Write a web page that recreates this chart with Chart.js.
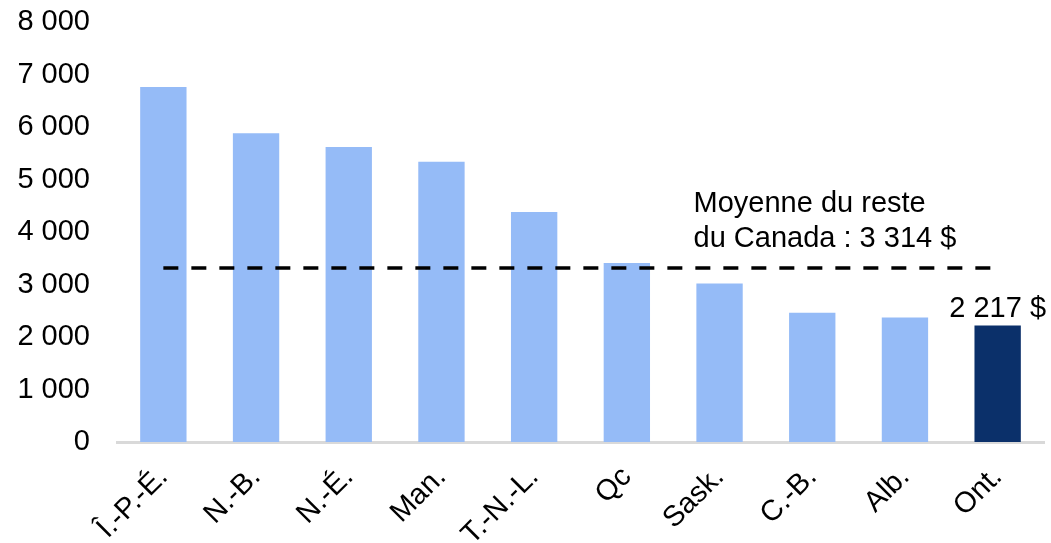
<!DOCTYPE html>
<html lang="fr">
<head>
  <meta charset="UTF-8" />
  <title>Moyenne du reste du Canada</title>
  <script src="https://cdn.jsdelivr.net/npm/chart.js"></script>
  <style>
    html, body { margin: 0; padding: 0; background: #fff; }
    #wrap { width: 1051px; height: 543px; }
  </style>
</head>
<body>
  <div id="wrap"><canvas id="chart" width="1051" height="543"></canvas></div>
  <script>
    const provinces = ['Î.-P.-É.', 'N.-B.', 'N.-É.', 'Man.', 'T.-N.-L.', 'Qc', 'Sask.', 'C.-B.', 'Alb.', 'Ont.'];
    const values = [6760, 5880, 5620, 5340, 4380, 3410, 3020, 2460, 2370, 2217];
    const restOfCanada = 3314;
    const yTicks = [0, 1000, 2000, 3000, 4000, 5000, 6000, 7000, 8000];

    const FONT = '"Liberation Sans", Arial, sans-serif';
    const fmt = v => String(v).replace(/\B(?=(\d{3})+(?!\d))/g, ' ');

    // text annotations drawn over the chart
    const notes = {
      id: 'notes',
      afterDatasetsDraw(chart) {
        const { ctx, scales: { x, y } } = chart;
        ctx.save();
        ctx.fillStyle = '#000';
        ctx.font = '29px ' + FONT;
        ctx.textAlign = 'left';
        ctx.textBaseline = 'alphabetic';
        const lineY = y.getPixelForValue(restOfCanada);
        const left = x.getPixelForValue(6) - 26;
        ctx.fillText('Moyenne du reste', left, lineY - 56);
        ctx.fillText('du Canada : ' + fmt(restOfCanada) + ' $', left, lineY - 21);
        const last = values.length - 1;
        ctx.textAlign = 'center';
        ctx.fillText(fmt(values[last]) + ' $', x.getPixelForValue(last), y.getPixelForValue(values[last]) - 9);
        ctx.restore();
      }
    };

    new Chart(document.getElementById('chart'), {
      type: 'bar',
      data: {
        labels: provinces,
        datasets: [
          {
            type: 'line',
            data: provinces.map(() => restOfCanada),
            borderColor: '#000',
            borderWidth: 3.5,
            borderDash: [15, 13],
            pointRadius: 0,
            fill: false,
            order: 0
          },
          {
            data: values,
            backgroundColor: values.map((v, i) => i === values.length - 1 ? '#0B306A' : '#95BBF7'),
            barPercentage: 0.5,
            categoryPercentage: 1,
            order: 1
          }
        ]
      },
      options: {
        responsive: false,
        animation: false,
        layout: { padding: { top: 22, right: 7, left: 0, bottom: 0 } },
        plugins: { legend: { display: false }, tooltip: { enabled: false } },
        scales: {
          x: {
            grid: { display: false, drawTicks: false },
            border: { color: '#d9d9d9', width: 3 },
            ticks: { color: '#000', font: { family: FONT, size: 29 }, maxRotation: 45, minRotation: 45, padding: 18 },
            afterFit: s => { s.height = 101; }
          },
          y: {
            min: 0, max: 8000,
            afterBuildTicks: s => { s.ticks = yTicks.map(v => ({ value: v })); },
            grid: { display: false, drawTicks: false },
            border: { display: false },
            ticks: { color: '#000', font: { family: FONT, size: 29 }, padding: 27, callback: v => fmt(v) },
            afterFit: s => { s.width = 117; s.paddingTop = 0; s.paddingBottom = 0; }
          }
        }
      },
      plugins: [notes]
    });
  </script>
</body>
</html>
